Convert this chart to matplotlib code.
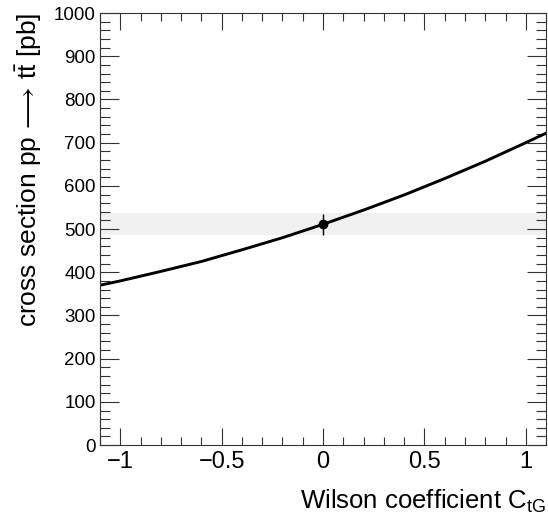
import matplotlib
matplotlib.use("Agg")
import matplotlib.pyplot as plt
from matplotlib.ticker import MultipleLocator

plt.rcParams['font.family'] = ['Liberation Sans', 'DejaVu Sans']
plt.rcParams['mathtext.fontset'] = 'custom'
plt.rcParams['mathtext.rm'] = 'Liberation Sans'
plt.rcParams['mathtext.it'] = 'Liberation Sans:italic'

# Data
ctg = [-1.1, -1.0, -0.8, -0.6, -0.4, -0.2, 0.0, 0.2, 0.4, 0.6, 0.8, 1.0, 1.1]
xsec = [370, 380, 402, 425, 452, 480, 511, 544, 579, 617, 657, 700, 722]
sm_point_x = [0.0]
sm_point_y = [511]
sm_point_err = [24]
band_low = 487
band_high = 537

fig = plt.figure(figsize=(5.48, 5.23), dpi=100)
ax = fig.add_axes([0.1825, 0.149, 0.814, 0.826])

ax.axhspan(band_low, band_high, color='#f0f0f0', lw=0, zorder=0)
ax.plot(ctg, xsec, color='black', lw=2.1, zorder=2)
ax.errorbar(sm_point_x, sm_point_y, yerr=sm_point_err, fmt='o', color='black',
            ms=6, elinewidth=1.0, capsize=0, zorder=3)

ax.set_xlim(-1.1, 1.1)
ax.set_ylim(0, 1000)
ax.xaxis.set_major_locator(MultipleLocator(0.5))
ax.xaxis.set_minor_locator(MultipleLocator(0.1))
ax.yaxis.set_major_locator(MultipleLocator(100))
ax.yaxis.set_minor_locator(MultipleLocator(20))

def fmt(v, pos):
    if abs(v) < 1e-9:
        return '0'
    return ('%g' % v).replace('-', '\u2212')
ax.xaxis.set_major_formatter(plt.FuncFormatter(fmt))

ax.tick_params(which='both', direction='in', top=True, right=True, width=0.8, color='#333333')
ax.tick_params(axis='x', which='major', length=12, labelsize=17, pad=4)
ax.tick_params(axis='x', which='minor', length=6)
ax.tick_params(axis='y', which='major', length=14, labelsize=13.5, pad=3)
ax.tick_params(axis='y', which='minor', length=7)
for s in ax.spines.values():
    s.set_linewidth(0.8)
    s.set_color('#333333')

ax.set_xlabel('Wilson coefficient C$_{\\mathrm{tG}}$', fontsize=18.5, loc='right', labelpad=11)
ax.set_ylabel('cross section pp$\\,\\longrightarrow\\,$t$\\bar{\\mathrm{t}}$ [pb]', fontsize=19, loc='top', labelpad=7)

fig.savefig('out.png', dpi=100)
